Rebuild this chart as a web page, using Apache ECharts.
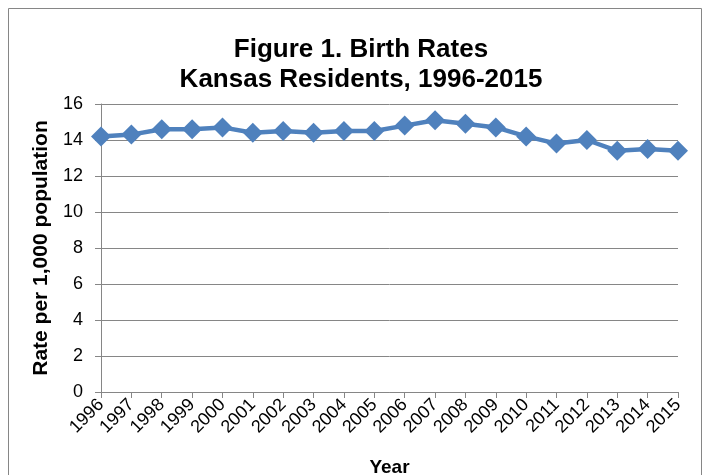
<!DOCTYPE html>
<html>
<head>
<meta charset="utf-8">
<script src="https://cdn.jsdelivr.net/npm/echarts@6/dist/echarts.min.js"></script>
<style>
  html, body { margin: 0; padding: 0; background: #ffffff; }
  #chart { width: 705px; height: 475px; }
</style>
</head>
<body>
<div id="chart"></div>
<script>
// birth rates per 1,000 population, Kansas residents
var years = ['1996', '1997', '1998', '1999', '2000', '2001', '2002', '2003', '2004', '2005',
  '2006', '2007', '2008', '2009', '2010', '2011', '2012', '2013', '2014', '2015'];
var rates = [14.2, 14.3, 14.6, 14.6, 14.7, 14.4, 14.5, 14.4, 14.5, 14.5,
  14.8, 15.1, 14.9, 14.7, 14.2, 13.8, 14.0, 13.4, 13.5, 13.4];
var yTicks = [0, 2, 4, 6, 8, 10, 12, 14, 16];

var chart = echarts.init(document.getElementById('chart'), null, { renderer: 'canvas' });
var font = 'Liberation Sans, Arial, sans-serif';

var option = {
  backgroundColor: '#ffffff',
  animation: false,
  graphic: [{
    type: 'rect',
    shape: { x: 8.5, y: 8.5, width: 693, height: 480 },
    style: { fill: 'none', stroke: '#868686', lineWidth: 1 },
    z: -1
  }],
  title: {
    text: 'Figure 1. Birth Rates\nKansas Residents, 1996-2015',
    left: 356,
    top: 30,
    textAlign: 'center',
    textStyle: { fontFamily: font, fontSize: 26, fontWeight: 'bold', color: '#000', lineHeight: 30 }
  },
  grid: { left: 101, right: 27, top: 104, bottom: 83, containLabel: false, outerBoundsMode: 'none' },
  xAxis: {
    type: 'category',
    data: years,
    boundaryGap: false,
    name: 'Year',
    nameLocation: 'middle',
    nameGap: 66,
    nameTextStyle: { fontFamily: font, fontSize: 19, fontWeight: 'bold', color: '#000' },
    axisLine: { lineStyle: { color: '#868686', width: 1 } },
    axisTick: { show: true, length: 6, inside: false, alignWithLabel: true, lineStyle: { color: '#868686' } },
    axisLabel: { rotate: 45, interval: 0, fontFamily: font, fontSize: 18, color: '#000', margin: 10 },
    splitLine: { show: false }
  },
  yAxis: {
    type: 'value',
    min: yTicks[0],
    max: yTicks[yTicks.length - 1],
    interval: 2,
    name: 'Rate per 1,000 population',
    nameLocation: 'middle',
    nameGap: 46,
    nameTextStyle: { fontFamily: font, fontSize: 21, fontWeight: 'bold', color: '#000' },
    axisLine: { show: true, lineStyle: { color: '#868686', width: 1 } },
    axisTick: { show: true, length: 6, lineStyle: { color: '#868686' } },
    axisLabel: { fontFamily: font, fontSize: 18, color: '#000', margin: 18 },
    splitLine: { show: true, lineStyle: { color: '#868686', width: 1 } }
  },
  series: [{
    type: 'line',
    data: rates,
    symbol: 'diamond',
    symbolSize: 20,
    itemStyle: { color: '#4F81BD' },
    lineStyle: { color: '#4F81BD', width: 4.5 }
  }]
};

chart.setOption(option);
</script>
</body>
</html>
